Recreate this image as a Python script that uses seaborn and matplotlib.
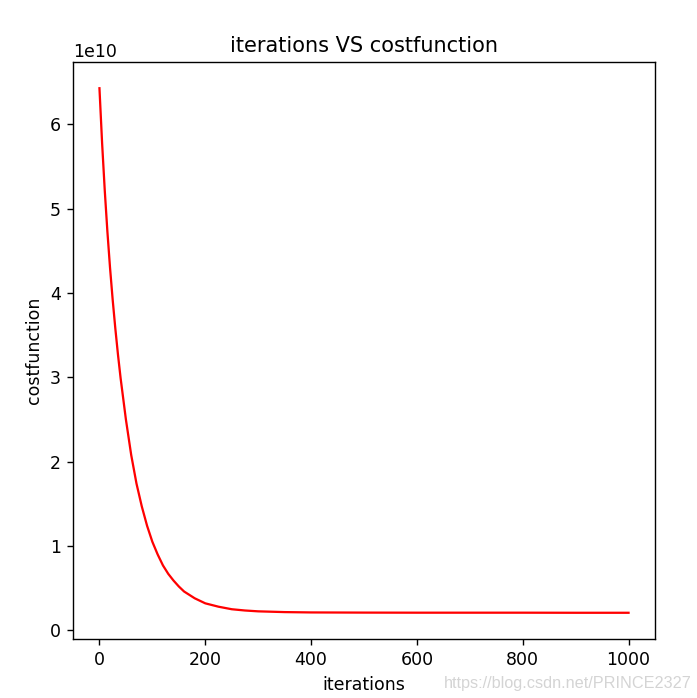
import matplotlib
matplotlib.use("Agg")
import matplotlib.pyplot as plt
import seaborn as sns
import pandas as pd

iterations = [0, 5, 10, 15, 20, 25, 30, 35, 40, 50, 60, 70, 80, 90, 100, 110,
              120, 130, 140, 150, 160, 170, 180, 190, 200, 225, 250, 275, 300,
              350, 400, 500, 600, 700, 800, 900, 1000]
cost_1e10 = [6.43, 5.78, 5.22, 4.73, 4.30, 3.92, 3.58, 3.27, 2.99, 2.50, 2.08,
             1.74, 1.47, 1.24, 1.05, 0.90, 0.77, 0.67, 0.59, 0.52, 0.46, 0.42,
             0.38, 0.35, 0.32, 0.28, 0.25, 0.235, 0.225, 0.216, 0.212, 0.21,
             0.209, 0.209, 0.209, 0.208, 0.208]

df = pd.DataFrame({"iterations": iterations,
                   "cost": [v * 1e10 for v in cost_1e10]})

fig = plt.figure(figsize=(697 / 125, 698 / 125), dpi=125)
ax = fig.add_axes([73 / 697, 59 / 698, (655 - 73) / 697, (639 - 62) / 698])
sns.lineplot(data=df, x="iterations", y="cost", color="red", linewidth=1.3, ax=ax)
ax.set_title("iterations VS costfunction", fontsize=12)
ax.set_xlabel("iterations", fontsize=10)
ax.set_ylabel("costfunction", fontsize=10)
ax.tick_params(labelsize=10)
ax.yaxis.get_offset_text().set_fontsize(10)

fig.text(0.992, 0.01, "https://blog.csdn.net/PRINCE2327", ha="right", va="bottom",
         fontsize=9.4, color="#d4d4d4", family=["Liberation Sans", "DejaVu Sans"])

fig.savefig("out.png", dpi=125)
